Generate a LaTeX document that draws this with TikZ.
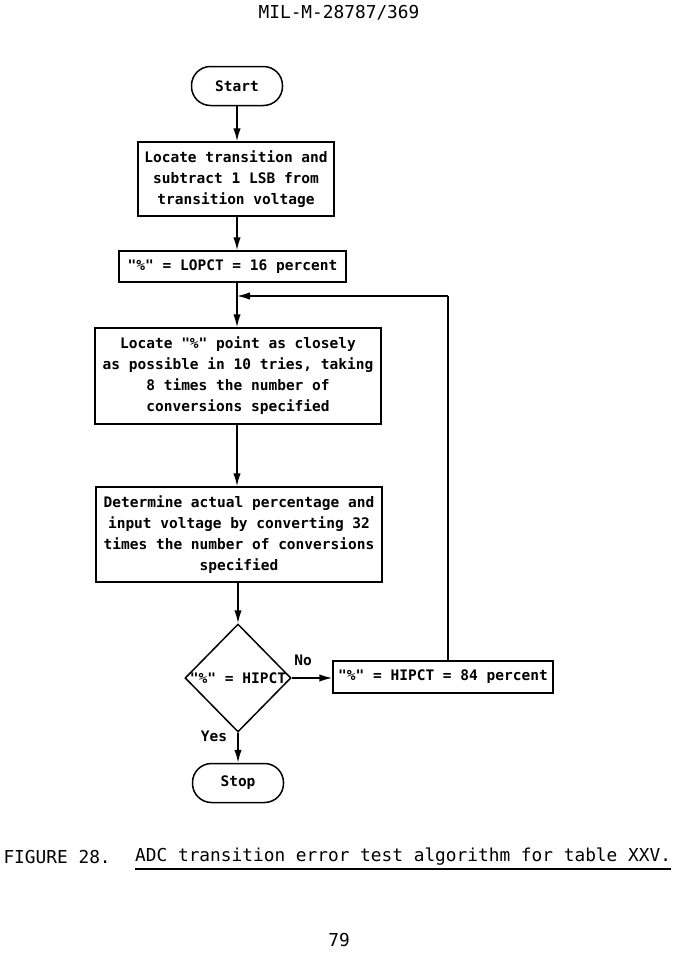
\documentclass[tikz,border=0pt]{standalone}
\usepackage{fontspec}
\setmonofont{DejaVu Sans Mono}
\usetikzlibrary{shapes.geometric,arrows.meta}
\begin{document}
\begin{tikzpicture}[x=1pt,y=-1pt,
  every node/.style={font=\ttfamily\bfseries\fontsize{14.5}{21}\selectfont, text=black},
  proc/.style={draw, line width=1.5pt, rectangle, inner sep=0pt, align=center},
  term/.style={draw, line width=1.5pt, rectangle, rounded corners=19pt, inner sep=0pt, minimum width=91pt, minimum height=39pt},
  dec/.style={draw, line width=1.5pt, diamond, inner sep=0pt, minimum width=106pt, minimum height=108pt},
  flow/.style={line width=1.5pt, -{Latex[length=13pt,width=7.5pt]}},
  plain/.style={line width=1.5pt},
  big/.style={font=\ttfamily\fontsize{17.8}{21}\selectfont}
]
\useasboundingbox[fill=white] (0,0) rectangle (676,956);

\node[big] (hdr) at (339,13) {MIL-M-28787/369};

\node[term] (start) at (237,86) {Start};
\node[proc, minimum width=196pt, minimum height=74pt] (b1) at (236,179)
  {Locate transition and\\subtract 1 LSB from\\transition voltage};
\node[proc, minimum width=227pt, minimum height=31pt] (b2) at (232.5,266.5)
  {"\%" = LOPCT = 16 percent};
\node[proc, minimum width=286pt, minimum height=96pt] (b3) at (238,376)
  {Locate "\%" point as closely\\as possible in 10 tries, taking\\8 times the number of\\conversions specified};
\node[proc, minimum width=286pt, minimum height=95pt] (b4) at (239,534.5)
  {Determine actual percentage and\\input voltage by converting 32\\times the number of conversions\\specified};
\node[dec] (d) at (238,678) {\makebox[0pt]{"\%" = HIPCT}};
\node[proc, minimum width=220pt, minimum height=32pt] (b5) at (443,677)
  {"\%" = HIPCT = 84 percent};
\node[term] (stop) at (238,783) {Stop};

\node (no) at (303,660) {No};
\node (yes) at (214,736) {Yes};

\coordinate (ax) at (237,0);
\coordinate (fb) at (448,296);

\draw[flow] (start.south -| ax) -- (b1.north -| ax);
\draw[flow] (b1.south -| ax) -- (b2.north -| ax);
\draw[flow] (b2.south -| ax) -- (b3.north -| ax);
\draw[flow] (b3.south -| ax) -- (b4.north -| ax);
\draw[flow] (b4.south -| d.north) -- (d.north);
\draw[flow] (d.east) -- (d.east -| b5.west);
\draw[flow] (d.south) -- (stop.north);
\draw[plain] (b5.north -| fb) -- (fb);
\draw[flow] (fb) -- (fb -| ax);

\node[big, anchor=west] (fig) at (0,857) {FIGURE 28.};
\node[big, anchor=west, inner sep=0pt] (cap) at (135,857) {ADC transition error test algorithm for table XXV.};
\draw[line width=1.3pt] (cap.south west) ++(0,3) coordinate (ul) -- (ul -| cap.south east);
\node[big] (pg) at (339,940) {79};
\end{tikzpicture}
\end{document}
